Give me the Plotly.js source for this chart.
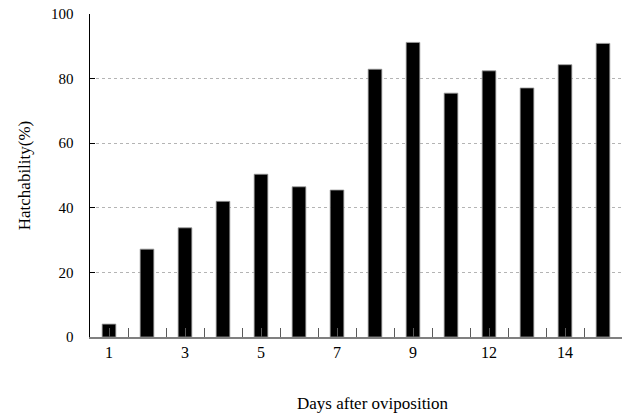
<!DOCTYPE html>
<html>
<head>
<meta charset="utf-8">
<script src="https://cdn.plot.ly/plotly-3.0.1.min.js"></script>
<style>html,body{margin:0;padding:0;background:#fff;}#chart{width:622px;height:416px;}</style>
</head>
<body>
<div id="chart"></div>
<script>
const days = ['1','2','3','4','5','6','7','8','9','10','12','13','14','15'];
const hatchability = [4.0, 27.2, 33.8, 42.0, 50.4, 46.5, 45.5, 82.9, 91.2, 75.5, 82.4, 77.1, 84.3, 90.9];
const tickLabels = ['1','3','5','7','9','12','14'];
const yTicks = [0, 20, 40, 60, 80, 100];

const xPos = days.map((d, i) => i);
const boundaries = days.slice(1).map((d, i) => i + 0.5);
const labelPos = tickLabels.map(t => days.indexOf(t));
const font = 'Liberation Serif';

const trace = {
  type: 'bar',
  x: xPos,
  y: hatchability,
  width: 0.36,
  marker: {color: '#000000', line: {color: '#9a9a9a', width: 0.8}},
  hoverinfo: 'skip'
};

const layout = {
  width: 622, height: 416,
  margin: {l: 90, r: 0, t: 14, b: 79},
  paper_bgcolor: '#ffffff', plot_bgcolor: '#ffffff',
  showlegend: false,
  font: {family: font, size: 15, color: '#000'},
  xaxis: {
    type: 'linear',
    range: [-0.5, days.length - 0.5],
    tickmode: 'array',
    tickvals: boundaries.concat(labelPos),
    ticktext: boundaries.map(() => '').concat(tickLabels),
    ticks: 'inside', ticklen: 9, tickcolor: '#5a5a5a', tickwidth: 1,
    showgrid: false, zeroline: false,
    showline: true, linecolor: '#808080', linewidth: 2,
    tickfont: {family: font, size: 16, color: '#000'}
  },
  yaxis: {
    range: [0, 100],
    tickmode: 'array', tickvals: yTicks,
    ticks: 'inside', ticklen: 5, tickcolor: '#000', ticklabelstandoff: 12,
    showgrid: true, gridcolor: '#b4b4b4', griddash: 'dot', gridwidth: 1,
    zeroline: false,
    showline: true, linecolor: '#000', linewidth: 1.5,
    tickfont: {family: font, size: 15, color: '#000'},
    title: {text: 'Hatchability(%)', font: {family: font, size: 17, color: '#000'}, standoff: 16}
  },
  annotations: [{
    text: 'Days after oviposition',
    xref: 'paper', yref: 'paper',
    x: (373 - 90) / 532, y: -0.207,
    yanchor: 'middle', xanchor: 'center',
    showarrow: false,
    font: {family: font, size: 17, color: '#000'}
  }]
};

Plotly.newPlot('chart', [trace], layout, {displayModeBar: false, staticPlot: true});
</script>
</body>
</html>
